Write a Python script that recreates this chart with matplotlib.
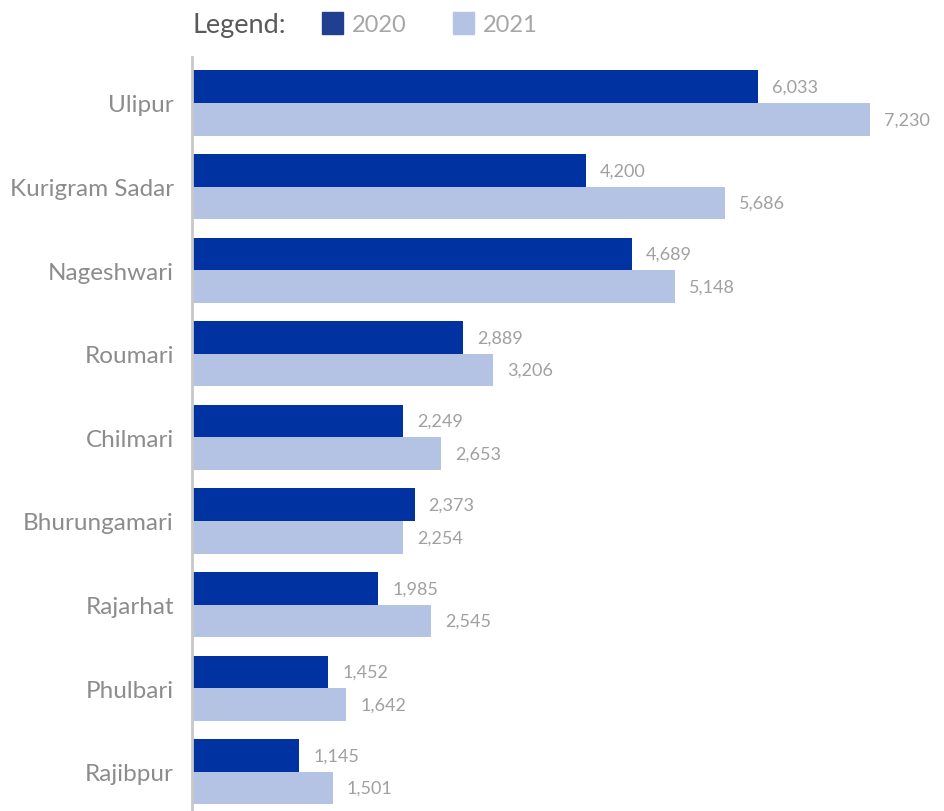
import numpy as np
import matplotlib.pyplot as plt

plt.rcParams['font.family'] = ['Lato', 'DejaVu Sans']

upazilas = ['Ulipur', 'Kurigram Sadar', 'Nageshwari', 'Roumari', 'Chilmari',
            'Bhurungamari', 'Rajarhat', 'Phulbari', 'Rajibpur']
values_2020 = [6033, 4200, 4689, 2889, 2249, 2373, 1985, 1452, 1145]
values_2021 = [7230, 5686, 5148, 3206, 2653, 2254, 2545, 1642, 1501]

dark = '#0033A1'
light = '#B4C3E3'

fig = plt.figure(figsize=(9.45, 8.12), dpi=100)
ax = fig.add_axes([192 / 945, 0, 1 - 192 / 945, 1 - 58 / 812])

y = np.arange(len(upazilas))
h = 0.39
ax.barh(y - h / 2, values_2020, height=h, color=dark)
ax.barh(y + h / 2, values_2021, height=h, color=light)

for yi, v in zip(y, values_2020):
    ax.text(v + 150, yi - h / 2, f'{v:,}', va='center', ha='left',
            fontsize=13, color='#A0A0A0')
for yi, v in zip(y, values_2021):
    ax.text(v + 150, yi + h / 2, f'{v:,}', va='center', ha='left',
            fontsize=13, color='#A0A0A0')

ax.set_xlim(0, 8030)
ax.set_ylim(8.47, -0.55)
ax.set_yticks(y)
ax.set_yticklabels(upazilas, fontsize=17.5, color='#8C8C8C')
ax.tick_params(axis='y', length=0, pad=13)
ax.set_xticks([])
for side in ['top', 'right', 'bottom']:
    ax.spines[side].set_visible(False)
ax.spines['left'].set_color('#C8C8C8')
ax.spines['left'].set_linewidth(2)

# legend row along the top
fig.text(193 / 945, 1 - 26 / 812, 'Legend:', fontsize=19.5, color='#595959',
         va='center', ha='left')
fig.patches.append(plt.Rectangle((322 / 945, 1 - 35 / 812), 21 / 945, 22 / 812,
                                 transform=fig.transFigure, color='#203F91'))
fig.text(352 / 945, 1 - 26 / 812, '2020', fontsize=17, color='#A6A6A6',
         va='center', ha='left')
fig.patches.append(plt.Rectangle((453 / 945, 1 - 35 / 812), 21 / 945, 22 / 812,
                                 transform=fig.transFigure, color=light))
fig.text(483 / 945, 1 - 26 / 812, '2021', fontsize=17, color='#A6A6A6',
         va='center', ha='left')

fig.savefig('out.png', dpi=100)
